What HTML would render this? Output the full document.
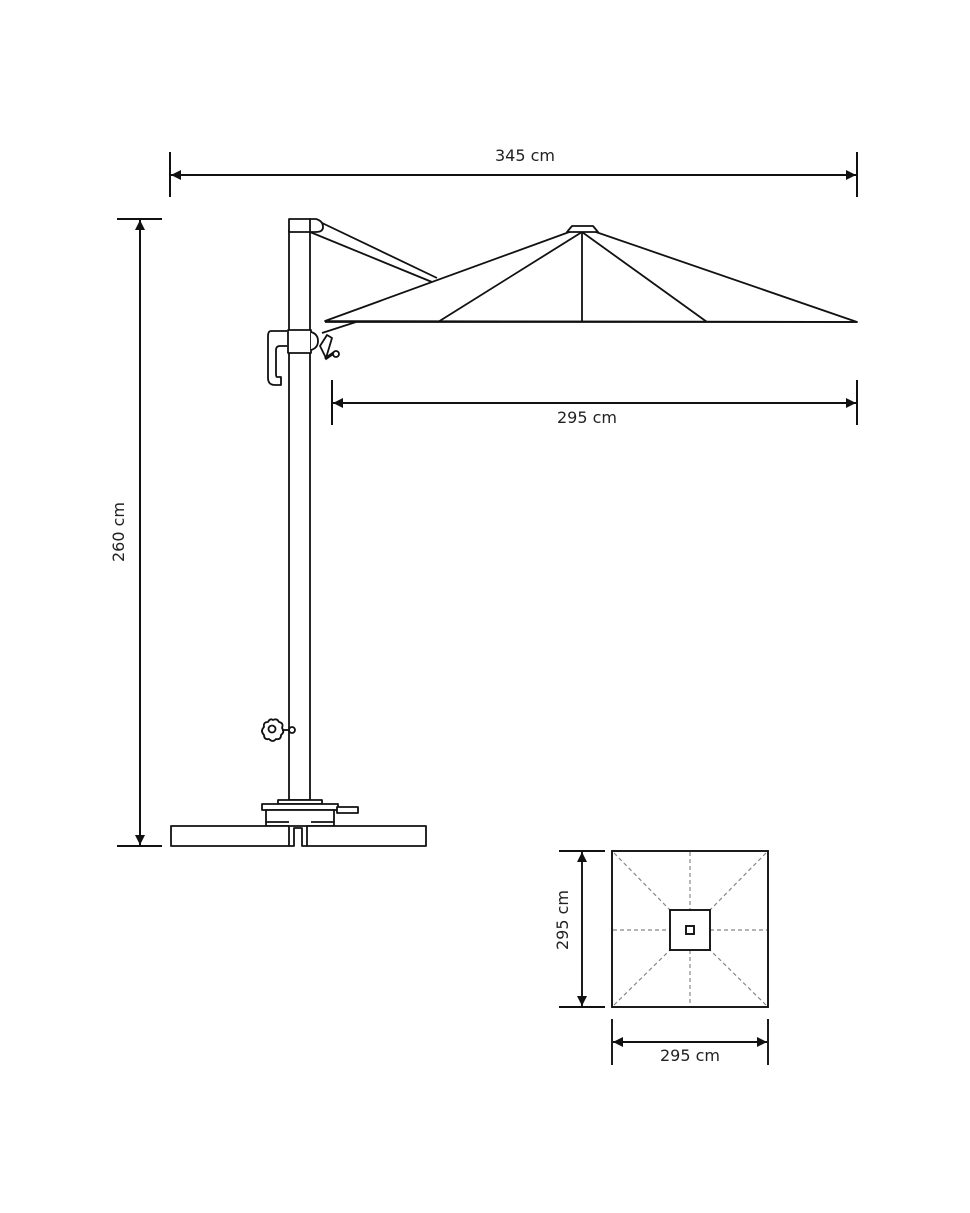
<!DOCTYPE html>
<html><head><meta charset="utf-8"><style>
html,body{margin:0;padding:0;background:#fff;width:970px;height:1213px;overflow:hidden}
svg{display:block}
text{font-family:"DejaVu Sans","Liberation Sans",sans-serif;font-size:16px;fill:#222}
</style></head><body>
<svg width="970" height="1213" viewBox="0 0 970 1213" xmlns="http://www.w3.org/2000/svg">
<defs>
<marker id="a" viewBox="0 0 10 10" refX="10" refY="5" markerWidth="12" markerHeight="10" markerUnits="userSpaceOnUse" orient="auto-start-reverse"><path d="M0,0 L10,5 L0,10z" fill="#111"/></marker>
</defs>
<g stroke="#111" stroke-width="2" fill="none">
<line x1="170" y1="152" x2="170" y2="197"/><line x1="857" y1="152" x2="857" y2="197"/>
<line x1="171" y1="175" x2="856" y2="175" marker-start="url(#a)" marker-end="url(#a)"/>
<line x1="117" y1="219" x2="162" y2="219"/><line x1="117" y1="846" x2="162" y2="846"/>
<line x1="140" y1="220" x2="140" y2="845" marker-start="url(#a)" marker-end="url(#a)"/>
<line x1="332" y1="380" x2="332" y2="425"/><line x1="857" y1="380" x2="857" y2="425"/>
<line x1="333" y1="403" x2="856" y2="403" marker-start="url(#a)" marker-end="url(#a)"/>
</g>
<g stroke="#111" stroke-width="1.8" fill="#fff" stroke-linejoin="round">
<path d="M310,232 L432,282 M320,222 L437,278"/>
<path d="M325,321 L572,231 L593,231 L857,322 Z"/>
<path d="M572,226 L593,226 L598,232 L567,232 Z"/>
<path d="M582,232 L438,322 M582,232 L582,322 M582,232 L707,322" fill="none"/>
<line x1="325" y1="322" x2="857" y2="322"/>
<rect x="289" y="230" width="21" height="570"/>
<path d="M310,219 L316,219 Q323,221 323,227 Q323,232 316,232 L310,232"/>
<rect x="289" y="219" width="21" height="13"/>
<path d="M287,331 L271,331 Q268,331 268,336 L268,378 Q268,385 275,385 L281,385 L281,377 L277,377 Q276,377 276,374 L276,350 Q276,346 280,346 L287,346"/>
<rect x="288" y="330" width="23" height="23"/>
<path d="M311,332 Q318,334 318,341 Q318,348 311,350"/>
<path d="M320,346 L327,335 L332,338 L326,358 Z"/>
<path d="M325,359 L335,352" stroke-width="3"/>
<circle cx="336" cy="354" r="3"/>
<path d="M322,333 L356,322" fill="none"/>
<path d="M273,720 Q277,718 279,722 Q284,723 282,728 Q285,732 281,735 Q281,740 276,739 Q273,743 269,739 Q264,740 264,735 Q260,731 264,727 Q263,722 268,722 Q270,718 273,720 Z"/>
<circle cx="272" cy="729" r="3.5"/>
<circle cx="292" cy="730" r="3"/>
<line x1="282" y1="730" x2="289" y2="730"/>
<rect x="278" y="800" width="44" height="4"/>
<rect x="262" y="804" width="76" height="6"/>
<rect x="337" y="807" width="21" height="6"/>
<rect x="266" y="810" width="68" height="16"/>
<path d="M171,826 L289,826 L289,846 L171,846 Z"/>
<path d="M307,826 L426,826 L426,846 L307,846 Z"/>
<path d="M289,846 L294,846 L294,828 L302,828 L302,846 L307,846" fill="none"/>
<path d="M266,822 L289,822 M311,822 L334,822" fill="none"/>
</g>
<g stroke="#888" stroke-width="1.2" stroke-dasharray="4,3" fill="none">
<line x1="690" y1="852" x2="690" y2="910"/><line x1="690" y1="950" x2="690" y2="1006"/>
<line x1="613" y1="930" x2="670" y2="930"/><line x1="710" y1="930" x2="767" y2="930"/>
<line x1="614" y1="853" x2="670" y2="910"/><line x1="766" y1="853" x2="710" y2="910"/>
<line x1="614" y1="1005" x2="670" y2="950"/><line x1="766" y1="1005" x2="710" y2="950"/>
</g>
<g stroke="#111" stroke-width="1.9" fill="none">
<rect x="612" y="851" width="156" height="156"/>
<rect x="670" y="910" width="40" height="40"/>
<rect x="686" y="926" width="8" height="8"/>
<line x1="559" y1="851" x2="605" y2="851"/><line x1="559" y1="1007" x2="605" y2="1007"/>
<line x1="582" y1="852" x2="582" y2="1006" marker-start="url(#a)" marker-end="url(#a)"/>
<line x1="612" y1="1019" x2="612" y2="1065"/><line x1="768" y1="1019" x2="768" y2="1065"/>
<line x1="613" y1="1042" x2="767" y2="1042" marker-start="url(#a)" marker-end="url(#a)"/>
</g>
<text x="525" y="161" text-anchor="middle">345 cm</text>
<text x="587" y="423" text-anchor="middle">295 cm</text>
<text x="690" y="1061" text-anchor="middle">295 cm</text>
<text transform="translate(124,532) rotate(-90)" text-anchor="middle">260 cm</text>
<text transform="translate(568,920) rotate(-90)" text-anchor="middle">295 cm</text>
</svg>
</body></html>
